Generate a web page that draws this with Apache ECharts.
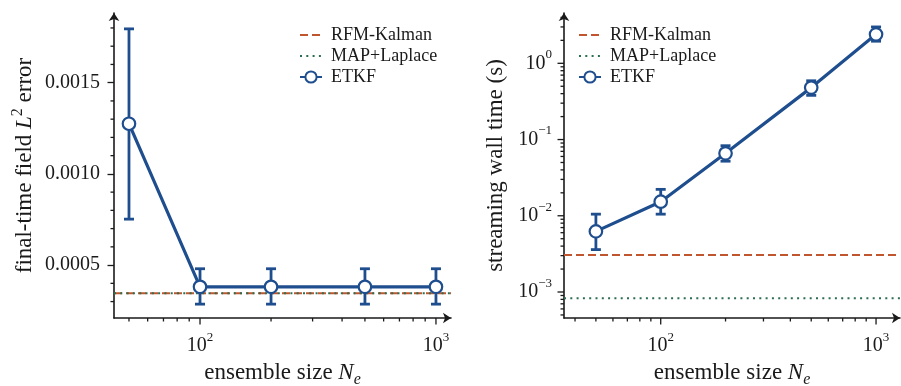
<!DOCTYPE html>
<html><head><meta charset="utf-8">
<script src="https://cdn.jsdelivr.net/npm/echarts@6/dist/echarts.min.js"></script>
<style>html,body{margin:0;padding:0;background:#fff}#c{width:901px;height:386px}</style>
</head><body><div id="c"></div><script>
// ---- data ----
const ensembleSizes = [50, 100, 200, 500, 1000];
const etkfError = [0.001275, 0.000381, 0.000381, 0.000381, 0.000381];
const etkfErrorLow = [0.000752, 0.000286, 0.000286, 0.000286, 0.000286];
const etkfErrorHigh = [0.001795, 0.000480, 0.000480, 0.000480, 0.000480];
const rfmKalmanError = 0.000345;
const mapLaplaceError = 0.000345;
const etkfTime = [0.00624, 0.0153, 0.066, 0.48, 2.4];
const etkfTimeLow = [0.0036, 0.0105, 0.052, 0.38, 1.95];
const etkfTimeHigh = [0.0105, 0.0222, 0.083, 0.59, 3.0];
const rfmKalmanTime = 0.00305;
const mapLaplaceTime = 0.00083;
const seriesNames = ['RFM-Kalman', 'MAP+Laplace', 'ETKF'];
// ticks
const errorTicks = [0.0005, 0.0010, 0.0015];
const errorTickLabels = ['0.0005', '0.0010', '0.0015'];
const errorMinorTicks = [0.0003, 0.0004, 0.0006, 0.0007, 0.0008, 0.0009, 0.0011, 0.0012, 0.0013, 0.0014, 0.0016, 0.0017, 0.0018];
const sizeTicks = [100, 1000];
const sizeTickExponents = ['2', '3'];
const sizeMinorTicks = [40, 50, 60, 70, 80, 90, 200, 300, 400, 500, 600, 700, 800, 900];
const timeTicks = [0.001, 0.01, 0.1, 1];
const timeTickExponents = ['\u22123', '\u22122', '\u22121', '0'];
const timeMinorTicks = [0.0005, 0.0006, 0.0007, 0.0008, 0.0009, 0.002, 0.003, 0.004, 0.005, 0.006, 0.007, 0.008, 0.009,
  0.02, 0.03, 0.04, 0.05, 0.06, 0.07, 0.08, 0.09, 0.2, 0.3, 0.4, 0.5, 0.6, 0.7, 0.8, 0.9, 2, 3, 4];

// ---- styles ----
const BLUE = '#1f4e8f', ORANGE = '#c0562f', GREEN = '#2c6e50', INK = '#1a1a1a';
const FONT = '"Liberation Serif", "Times New Roman", serif';
const X0 = {min: 43.2, max: 1158}, X1 = {min: 35.55, max: 1292};
const Y0 = {min: 0.00021, max: 0.001882}, Y1 = {min: 0.000456, max: 4.57};
const DASH = [8, 4], DOT = [2, 4.3];

const chart = echarts.init(document.getElementById('c'), null, {renderer: 'canvas'});

function expLabel(ticks, exps) {
  return function (v) {
    for (let i = 0; i < ticks.length; i++) {
      if (Math.abs(Math.log10(v) - Math.log10(ticks[i])) < 1e-6) return '{b|10}{s|' + exps[i] + '}';
    }
    return '';
  };
}
const expRich = {
  b: {fontFamily: FONT, fontSize: 20, lineHeight: 30, color: INK},
  s: {fontFamily: FONT, fontSize: 13, verticalAlign: 'top', color: INK}
};
const axisLineStyle = {color: INK, width: 1.6};

function tickSeries(xi, yi, values, dim, len, ref) {
  return {
    type: 'custom', xAxisIndex: xi, yAxisIndex: yi, silent: true, clip: false, z: 5,
    data: values.map(v => dim === 'x' ? [v, ref] : [ref, v]),
    renderItem(params, api) {
      const cs = params.coordSys;
      const p = api.coord([api.value(0), api.value(1)]);
      let shape;
      if (dim === 'x') {
        const yb = cs.y + cs.height;
        shape = {x1: p[0], y1: yb, x2: p[0], y2: yb + len};
      } else {
        shape = {x1: cs.x, y1: p[1], x2: cs.x - len, y2: p[1]};
      }
      return {type: 'line', shape, style: {stroke: INK, lineWidth: 1.3}};
    }
  };
}

function errorBarSeries(xi, yi, low, high) {
  return {
    type: 'custom', xAxisIndex: xi, yAxisIndex: yi, silent: true, z: 3,
    data: ensembleSizes.map((n, i) => [n, low[i], high[i]]),
    encode: {x: 0, y: [1, 2]},
    renderItem(params, api) {
      const x = api.value(0);
      const lo = api.coord([x, api.value(1)]);
      const hi = api.coord([x, api.value(2)]);
      const cw = 5;
      const st = {stroke: BLUE, lineWidth: 2.8};
      return {type: 'group', children: [
        {type: 'line', shape: {x1: lo[0], y1: lo[1], x2: hi[0], y2: hi[1]}, style: st},
        {type: 'line', shape: {x1: lo[0] - cw, y1: lo[1], x2: lo[0] + cw, y2: lo[1]}, style: st},
        {type: 'line', shape: {x1: hi[0] - cw, y1: hi[1], x2: hi[0] + cw, y2: hi[1]}, style: st}
      ]};
    }
  };
}

// legend-only entry (line icon, hidden symbol)
function legendEntry(xi, yi, name, color, dash) {
  return {
    type: 'line', name, xAxisIndex: xi, yAxisIndex: yi, data: [], symbol: 'none',
    itemStyle: {color, opacity: 0},
    lineStyle: {color, width: 2, type: dash}
  };
}
// horizontal reference line across the full plot width
function hline(xi, yi, value, color, dash, z) {
  return {
    type: 'custom', xAxisIndex: xi, yAxisIndex: yi, silent: true, z,
    data: [[ensembleSizes[0], value]],
    renderItem(params, api) {
      const cs = params.coordSys;
      const p = api.coord([api.value(0), api.value(1)]);
      return {type: 'line', shape: {x1: cs.x, y1: p[1], x2: cs.x + cs.width, y2: p[1]},
        style: {stroke: color, lineWidth: 2, lineDash: dash}};
    }
  };
}

function etkfLine(xi, yi, vals) {
  return {
    type: 'line', name: 'ETKF', xAxisIndex: xi, yAxisIndex: yi, z: 4,
    data: ensembleSizes.map((n, i) => [n, vals[i]]),
    symbol: 'circle', symbolSize: 12.5, showAllSymbol: true,
    lineStyle: {color: BLUE, width: 3.2},
    itemStyle: {color: '#fff', borderColor: BLUE, borderWidth: 2.2},
    emphasis: {disabled: true}
  };
}

const xName = '{n|ensemble size }{i|N}{sub|e}';
const nameRich = {
  n: {fontFamily: FONT, fontSize: 23, lineHeight: 30, color: INK},
  i: {fontFamily: FONT, fontSize: 23, fontStyle: 'italic', lineHeight: 30, color: INK},
  sub: {fontFamily: FONT, fontSize: 16, fontStyle: 'italic', verticalAlign: 'bottom', color: INK},
  sup: {fontFamily: FONT, fontSize: 16, verticalAlign: 'top', color: INK}
};

function legend(left) {
  return {
    data: seriesNames, orient: 'vertical', left, top: 20,
    itemWidth: 22, itemHeight: 14, itemGap: 1, selectedMode: false,
    textStyle: {fontFamily: FONT, fontSize: 18, lineHeight: 20, color: INK, padding: [0, 0, 0, 4]}
  };
}

chart.setOption({
  animation: false,
  backgroundColor: '#fff',
  legend: [legend(294), legend(573)],
  grid: [
    {left: 114, top: 13, width: 337, height: 305, outerBoundsMode: 'none', containLabel: false},
    {left: 564, top: 13, width: 336, height: 305, outerBoundsMode: 'none', containLabel: false}
  ],
  xAxis: [
    {type: 'log', logBase: 10, gridIndex: 0, min: X0.min, max: X0.max,
     splitLine: {show: false}, axisTick: {show: false},
     axisLine: {lineStyle: axisLineStyle, symbol: ['none', 'arrow'], symbolSize: [8, 8]},
     axisLabel: {formatter: expLabel(sizeTicks, sizeTickExponents), rich: expRich, margin: 13, showMinLabel: false, showMaxLabel: false},
     name: xName, nameLocation: 'middle', nameGap: 40, nameTextStyle: {rich: nameRich}},
    {type: 'log', logBase: 10, gridIndex: 1, min: X1.min, max: X1.max,
     splitLine: {show: false}, axisTick: {show: false},
     axisLine: {lineStyle: axisLineStyle, symbol: ['none', 'arrow'], symbolSize: [8, 8]},
     axisLabel: {formatter: expLabel(sizeTicks, sizeTickExponents), rich: expRich, margin: 13, showMinLabel: false, showMaxLabel: false},
     name: xName, nameLocation: 'middle', nameGap: 40, nameTextStyle: {rich: nameRich}}
  ],
  yAxis: [
    {type: 'value', gridIndex: 0, min: Y0.min, max: Y0.max,
     splitLine: {show: false},
     axisLine: {show: true, lineStyle: axisLineStyle, symbol: ['none', 'arrow'], symbolSize: [8, 8]},
     axisTick: {show: true, length: 6.5, lineStyle: {color: INK, width: 1.3}, customValues: errorTicks},
     axisLabel: {customValues: errorTicks, margin: 14, fontFamily: FONT, fontSize: 20, color: INK,
       formatter: v => { const i = errorTicks.findIndex(t => Math.abs(t - v) < 1e-9); return i >= 0 ? errorTickLabels[i] : ''; }},
     name: '{n|final-time field }{i|L}{sup|2}{n| error}', nameLocation: 'middle', nameRotate: 90, nameGap: 74,
     nameTextStyle: {rich: nameRich}},
    {type: 'log', logBase: 10, gridIndex: 1, min: Y1.min, max: Y1.max,
     splitLine: {show: false}, axisTick: {show: false},
     axisLine: {show: true, lineStyle: axisLineStyle, symbol: ['none', 'arrow'], symbolSize: [8, 8]},
     axisLabel: {formatter: expLabel(timeTicks, timeTickExponents), rich: expRich, margin: 12, showMinLabel: false, showMaxLabel: false},
     name: '{n|streaming wall time (s)}', nameLocation: 'middle', nameRotate: 90, nameGap: 53,
     nameTextStyle: {rich: nameRich}}
  ],
  series: [
    legendEntry(0, 0, 'RFM-Kalman', ORANGE, DASH),
    legendEntry(0, 0, 'MAP+Laplace', GREEN, DOT),
    hline(0, 0, rfmKalmanError, ORANGE, DASH, 1),
    hline(0, 0, mapLaplaceError, GREEN, DOT, 2),
    errorBarSeries(0, 0, etkfErrorLow, etkfErrorHigh),
    etkfLine(0, 0, etkfError),
    legendEntry(1, 1, 'RFM-Kalman', ORANGE, DASH),
    legendEntry(1, 1, 'MAP+Laplace', GREEN, DOT),
    hline(1, 1, rfmKalmanTime, ORANGE, DASH, 1),
    hline(1, 1, mapLaplaceTime, GREEN, DOT, 2),
    errorBarSeries(1, 1, etkfTimeLow, etkfTimeHigh),
    etkfLine(1, 1, etkfTime),
    tickSeries(0, 0, sizeTicks, 'x', 6.5, Y0.min),
    tickSeries(0, 0, sizeMinorTicks.filter(v => v > X0.min && v < X0.max), 'x', 3.5, Y0.min),
    tickSeries(0, 0, errorMinorTicks, 'y', 3.5, X0.min),
    tickSeries(1, 1, sizeTicks, 'x', 6.5, Y1.min),
    tickSeries(1, 1, sizeMinorTicks.filter(v => v > X1.min && v < X1.max), 'x', 3.5, Y1.min),
    tickSeries(1, 1, timeTicks, 'y', 6.5, X1.min),
    tickSeries(1, 1, timeMinorTicks, 'y', 3.5, X1.min)
  ]
});
</script></body></html>
